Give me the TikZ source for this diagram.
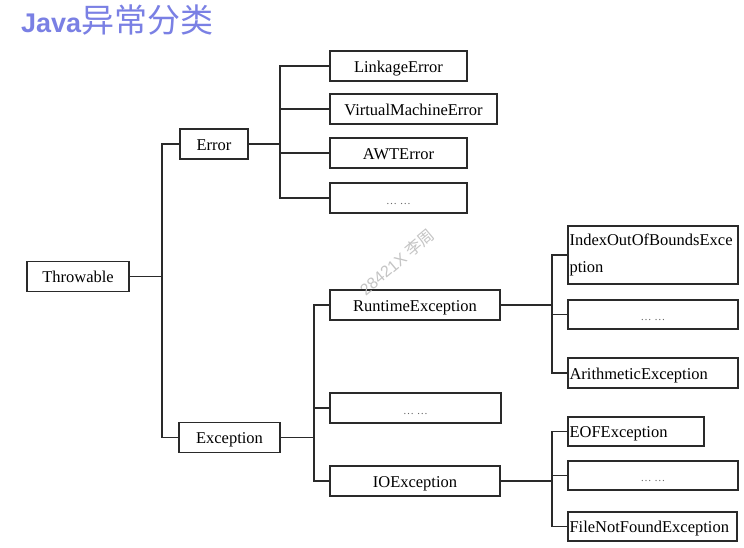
\documentclass[tikz,border=0pt]{standalone}
\usepackage{fontspec}
\setmainfont{Liberation Serif}
\newfontfamily\titlesans{Liberation Sans}
\newfontfamily\cjk{Noto Sans CJK SC}
\definecolor{titleblue}{HTML}{7A80E4}
\definecolor{boxline}{HTML}{2A2A2A}
\definecolor{wmark}{HTML}{C4C4C4}
\begin{document}
\begin{tikzpicture}[x=1pt,y=-1pt,
  box/.style={draw=boxline, line width=1.3pt, inner sep=0pt, minimum height=30pt,
    font=\fontsize{16.5}{27}\selectfont, text height=13pt, text depth=1pt},
  lbox/.style={box, align=left, inner xsep=1.5pt, text width=#1-3pt},
  dots/.style={box, font=\fontsize{11}{12}\selectfont, text=black!60},
  conn/.style={draw=boxline, line width=1.3pt}]
\useasboundingbox (0,0) rectangle (744,547);
\fill[white] (0,0) rectangle (744,547);
% title
\node[anchor=west, inner sep=0pt, text=titleblue] (title) at (21,20)
  {\titlesans\bfseries\fontsize{27}{30}\selectfont Java\cjk\mdseries\fontsize{33}{35}\selectfont 异常分类};
% level 0-1
\node[box, minimum width=102pt] (thr) at (78,276.5) {Throwable};
\node[box, minimum width=68pt] (err) at (214,144) {Error};
\node[box, minimum width=101pt] (exc) at (229.5,437.5) {Exception};
% Error children
\node[box, minimum width=137pt] (e1) at (398.5,66) {LinkageError};
\node[box, minimum width=167pt] (e2) at (413.5,109) {VirtualMachineError};
\node[box, minimum width=137pt] (e3) at (398.5,153) {AWTError};
\node[dots, minimum width=137pt] (e4) at (398.5,198) {… …};
% Exception children
\node[box, minimum width=170pt] (x1) at (415,305) {RuntimeException};
\node[dots, minimum width=171pt] (x2) at (415.5,408) {… …};
\node[box, minimum width=170pt] (x3) at (415,481) {IOException};
% Runtime children
\node[draw=boxline, line width=1.3pt, inner sep=0pt, minimum width=170pt, minimum height=58pt] (r1) at (653,255)
  {\raisebox{-4pt}{\parbox{167pt}{\raggedright\fontsize{16.5}{27}\selectfont IndexOutOfBoundsExce\\ption}}};
\node[dots, minimum width=170pt, minimum height=29pt] (r2) at (653,314.5) {… …};
\node[lbox=170pt] (r3) at (653,373) {ArithmeticException};
% IO children
\node[lbox=136pt, minimum height=29pt] (i1) at (636,431.5) {EOFException};
\node[dots, minimum width=170pt, minimum height=29pt] (i2) at (653,475.5) {… …};
\node[lbox=169pt, minimum height=29pt] (i3) at (652.5,526.5) {FileNotFoundException};
% junctions
\coordinate (j0) at (162,276.5);
\coordinate (j1) at (280,144);
\coordinate (j2) at (314,437.5);
\coordinate (j3) at (552,305);
\coordinate (j4) at (552,481);
% connectors
\draw[conn] (thr.east) -- (j0);
\draw[conn] (err.west) -| (j0) |- (exc.west);
\draw[conn] (err.east) -- (j1);
\draw[conn] (e1.west) -| (j1) |- (e4.west);
\draw[conn] (e2.west) -- (e2.west -| j1);
\draw[conn] (e3.west) -- (e3.west -| j1);
\draw[conn] (exc.east) -- (j2);
\draw[conn] (x1.west) -| (j2) |- (x3.west);
\draw[conn] (x2.west) -- (x2.west -| j2);
\draw[conn] (x1.east) -- (j3);
\draw[conn] (r1.west) -| (j3) |- (r3.west);
\draw[conn] (r2.west) -- (r2.west -| j3);
\draw[conn] (x3.east) -- (j4);
\draw[conn] (i1.west) -| (j4) |- (i3.west);
\draw[conn] (i2.west) -- (i2.west -| j4);
% watermark
\node[text=wmark, rotate=40, font=\fontsize{16}{18}\selectfont\titlesans] (wm) at (397,262) {28421X \cjk 李周};
\end{tikzpicture}
\end{document}
